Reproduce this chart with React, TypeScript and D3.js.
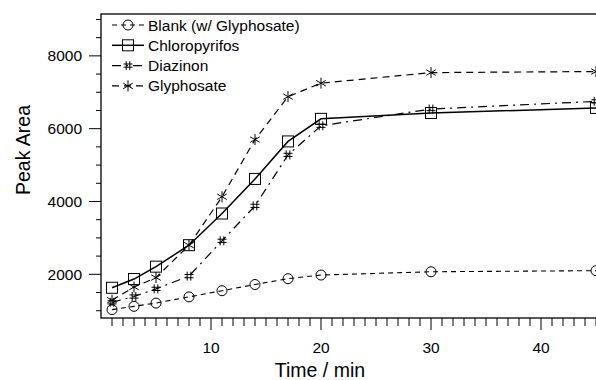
import React from "react";
import * as d3 from "d3";

const times = [1, 3, 5, 8, 11, 14, 17, 20, 30, 45];
const blank = [1030, 1120, 1210, 1380, 1550, 1720, 1880, 1980, 2070, 2100];
const chloropyrifos = [1630, 1870, 2210, 2800, 3670, 4620, 5650, 6270, 6430, 6570];
const diazinon = [1230, 1390, 1600, 1950, 2920, 3880, 5280, 6080, 6540, 6750];
const glyphosate = [1290, 1650, 1910, 2800, 4130, 5700, 6880, 7250, 7540, 7570];

const seriesNames = ["Blank (w/ Glyphosate)", "Chloropyrifos", "Diazinon", "Glyphosate"];
const xTickLabels = [10, 20, 30, 40];
const yTickLabels = [2000, 4000, 6000, 8000];

const W = 596;
const H = 380;
const FONT = "'Liberation Sans', Arial, Helvetica, sans-serif";

// marker shapes, drawn hollow so the line shows through
function marker(kind: string, cx: number, cy: number, key?: string | number) {
  const p = { fill: "none", stroke: "#000", strokeWidth: 1 };
  if (kind === "circle") return <circle key={key} cx={cx} cy={cy} r={5} {...p} />;
  if (kind === "square") return <rect key={key} x={cx - 5.5} y={cy - 5.5} width={11} height={11} {...p} />;
  if (kind === "star") {
    const r = 5.5;
    const d = [0, 60, 120]
      .map((a) => {
        const t = ((a + 90) * Math.PI) / 180;
        const dx = r * Math.cos(t), dy = r * Math.sin(t);
        return `M${cx - dx},${cy - dy}L${cx + dx},${cy + dy}`;
      })
      .join("");
    return <path key={key} d={d} {...p} />;
  }
  // hash
  const s = 4.5;
  const d = `M${cx - 1.8},${cy - s}V${cy + s}M${cx + 1.8},${cy - s}V${cy + s}M${cx - s},${cy - 1.6}H${cx + s}M${cx - s},${cy + 1.6}H${cx + s}`;
  return <path key={key} d={d} {...p} />;
}

export default function App() {
  const x = d3.scaleLinear().domain([0, 45]).range([101, 596]);
  const y = d3.scaleLinear().domain([800, 9150]).range([318, 14]);

  const series = [
    { name: seriesNames[0], values: blank, shape: "circle", dash: "5,4", width: 1.1 },
    { name: seriesNames[1], values: chloropyrifos, shape: "square", dash: "", width: 1.5 },
    { name: seriesNames[2], values: diazinon, shape: "hash", dash: "9,5,2,5", width: 1.2 },
    { name: seriesNames[3], values: glyphosate, shape: "star", dash: "7,5", width: 1.2 },
  ];

  const line = d3
    .line<number>()
    .x((_, i) => x(times[i]))
    .y((v) => y(v));

  const xMinor = d3.range(1, 47);
  const yMinor = d3.range(1000, 9001, 500);
  const bottom = y.range()[0];
  const left = x(0);

  return (
    <svg
      width={W}
      height={H}
      style={{ position: "absolute", left: 0, top: 0, background: "#fff" }}
      fontFamily={FONT}
    >
      {/* frame */}
      <rect x={left} y={14} width={x(46) - left} height={bottom - 14} fill="none" stroke="#000" strokeWidth={1.3} />

      {/* x ticks */}
      {xMinor.map((t) => {
        const major = t % 10 === 0;
        return (
          <line key={"xt" + t} x1={x(t)} x2={x(t)} y1={bottom} y2={bottom + (major ? 12 : 8)} stroke="#000" strokeWidth={1} />
        );
      })}
      {xTickLabels.map((t) => (
        <text key={"xl" + t} x={x(t)} y={353} textAnchor="middle" fontSize={15.5}>
          {t}
        </text>
      ))}

      {/* y ticks */}
      {yMinor.map((t) => {
        const major = t % 2000 === 0;
        return (
          <line key={"yt" + t} x1={left - (major ? 12 : 5)} x2={left} y1={y(t)} y2={y(t)} stroke="#000" strokeWidth={1} />
        );
      })}
      {yTickLabels.map((t) => (
        <text key={"yl" + t} x={82} y={y(t)} dy="0.36em" textAnchor="end" fontSize={15.5}>
          {t}
        </text>
      ))}

      {/* titles */}
      <text x={320} y={377} textAnchor="middle" fontSize={19.5}>
        Time / min
      </text>
      <text transform="translate(30,150) rotate(-90)" textAnchor="middle" fontSize={19.5}>
        Peak Area
      </text>

      {/* series */}
      {series.map((s) => (
        <g key={s.name}>
          <path d={line(s.values) || ""} fill="none" stroke="#000" strokeWidth={s.width} strokeDasharray={s.dash} />
          {s.values.map((v, i) => marker(s.shape, x(times[i]), y(v), i))}
        </g>
      ))}

      {/* legend */}
      {series.map((s, i) => {
        const ly = 25 + i * 20.3;
        return (
          <g key={"lg" + s.name}>
            <line x1={112} x2={144} y1={ly} y2={ly} stroke="#000" strokeWidth={s.width} strokeDasharray={s.dash} />
            {marker(s.shape, 128, ly)}
            <text x={148} y={ly} dy="0.36em" fontSize={15.5}>
              {s.name}
            </text>
          </g>
        );
      })}
    </svg>
  );
}
